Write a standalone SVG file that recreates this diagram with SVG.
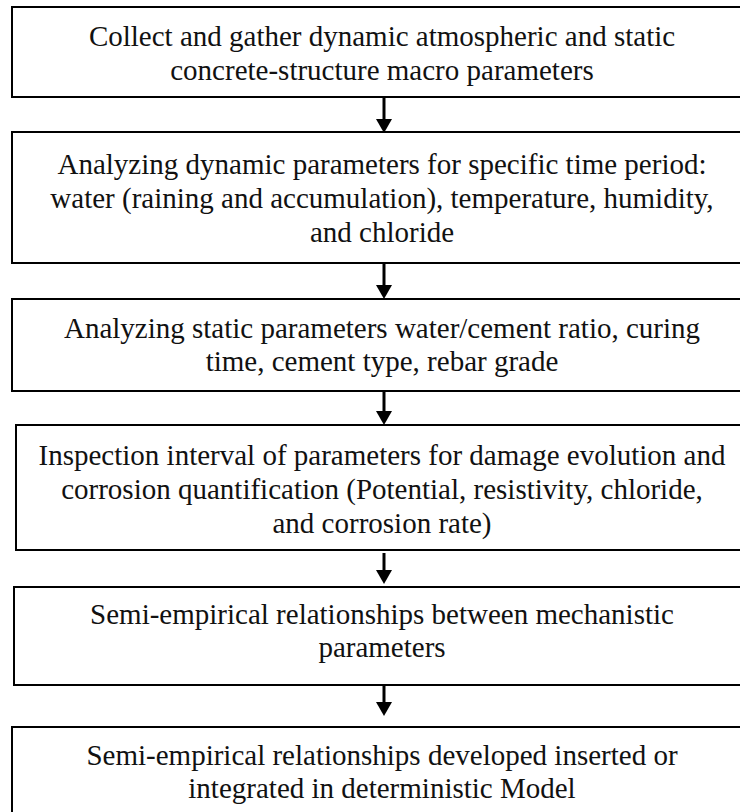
<svg xmlns="http://www.w3.org/2000/svg" width="740" height="812" viewBox="0 0 740 812">
<defs>
<style>
.box{fill:#fff;stroke:#000;stroke-width:2}
.t{font-family:'Liberation Serif','Times New Roman',Times,serif;font-size:29px;fill:#111;text-anchor:middle}
.c{stroke:#000;stroke-width:3;fill:none}
.h{fill:#000;stroke:none}
</style>
</defs>
<rect width="740" height="812" fill="#fff"/>
<g id="n1">
<rect class="box" x="12" y="7" width="760" height="90"/>
<text class="t" x="382" y="46">Collect and gather dynamic atmospheric and static</text>
<text class="t" x="382" y="80">concrete-structure macro parameters</text>
</g>
<g id="n2">
<rect class="box" x="12" y="132" width="760" height="131"/>
<text class="t" x="382" y="174">Analyzing dynamic parameters for specific time period:</text>
<text class="t" x="382" y="208">water (raining and accumulation), temperature, humidity,</text>
<text class="t" x="382" y="242">and chloride</text>
</g>
<g id="n3">
<rect class="box" x="12" y="299" width="760" height="92"/>
<text class="t" x="382" y="338">Analyzing static parameters water/cement ratio, curing</text>
<text class="t" x="382" y="371">time, cement type, rebar grade</text>
</g>
<g id="n4">
<rect class="box" x="16" y="425" width="760" height="125"/>
<text class="t" x="382" y="465">Inspection interval of parameters for damage evolution and</text>
<text class="t" x="382" y="499">corrosion quantification (Potential, resistivity, chloride,</text>
<text class="t" x="382" y="533">and corrosion rate)</text>
</g>
<g id="n5">
<rect class="box" x="14" y="587" width="760" height="98"/>
<text class="t" x="382" y="624">Semi-empirical relationships between mechanistic</text>
<text class="t" x="382" y="657">parameters</text>
</g>
<g id="n6">
<rect class="box" x="12" y="727" width="760" height="120"/>
<text class="t" x="382" y="765">Semi-empirical relationships developed inserted or</text>
<text class="t" x="382" y="798">integrated in deterministic Model</text>
</g>
<g id="connectors">
<line class="c" x1="384" y1="97" x2="384" y2="120"/>
<polygon class="h" points="376,119 392,119 384,133"/>
<line class="c" x1="384" y1="263" x2="384" y2="286"/>
<polygon class="h" points="376,285 392,285 384,299"/>
<line class="c" x1="384" y1="391" x2="384" y2="412"/>
<polygon class="h" points="376,411 392,411 384,425"/>
<line class="c" x1="384" y1="553" x2="384" y2="571"/>
<polygon class="h" points="376,570 392,570 384,584"/>
<line class="c" x1="384" y1="686" x2="384" y2="703"/>
<polygon class="h" points="376,702 392,702 384,716"/>
</g>
</svg>
